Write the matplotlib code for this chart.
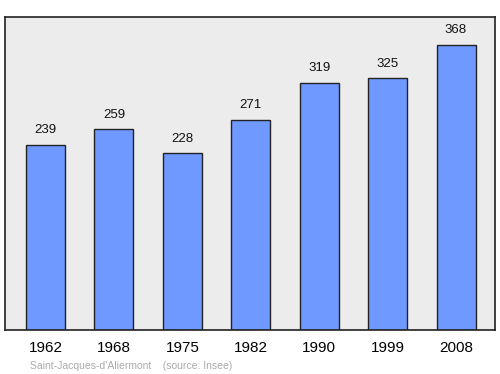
import matplotlib
matplotlib.use('Agg')
import matplotlib.pyplot as plt

plt.rcParams['font.family'] = ['Liberation Sans', 'DejaVu Sans']

years = ['1962', '1968', '1975', '1982', '1990', '1999', '2008']
population = [239, 259, 228, 271, 319, 325, 368]

fig = plt.figure(figsize=(5, 3.74), dpi=100)
ax = fig.add_axes([0.01, 0.118, 0.98, 0.837])
ax.set_facecolor('#ececec')

pos = range(len(years))
ax.bar(pos, population, width=0.57, color='#7099ff', edgecolor='#222222', linewidth=1)
for x, v in zip(pos, population):
    ax.text(x, v + 11, str(v), ha='center', va='bottom', fontsize=9.5, color='#111111')

ax.set_xlim(-0.592, 6.57)
ax.set_ylim(0, 404)
ax.set_yticks([])
ax.set_xticks(list(pos))
ax.set_xticklabels(years, fontsize=11)
ax.tick_params(axis='x', length=0, pad=8)
for s in ax.spines.values():
    s.set_color('#222222')
    s.set_linewidth(1.2)

fig.text(0.06, 0.014, "Saint-Jacques-d'Aliermont    (source: Insee)", fontsize=7.5, color='#aaaaaa')

fig.savefig('out.png')
